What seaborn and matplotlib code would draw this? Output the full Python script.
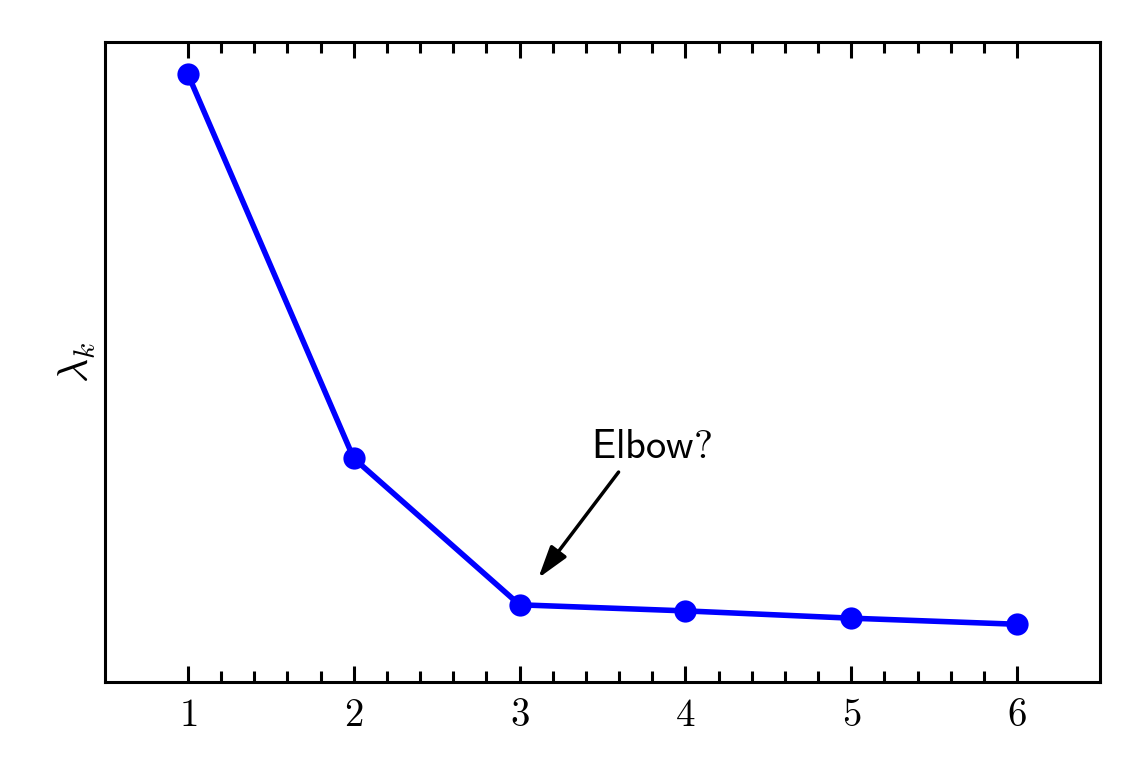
import matplotlib
matplotlib.use("Agg")
import matplotlib.pyplot as plt
import seaborn as sns
import pandas as pd
import numpy as np
from matplotlib.ticker import FixedLocator

# Data
k_values = [1, 2, 3, 4, 5, 6]
eigenvalues = [10.0, 3.68, 1.27, 1.17, 1.05, 0.95]
tick_labels = ["1", "2", "3", "4", "5", "6"]

sns.set_style("white")
plt.rcParams["mathtext.fontset"] = "cm"
plt.rcParams["font.family"] = ["DejaVu Sans"]
plt.rcParams["text.color"] = "black"
plt.rcParams["xtick.color"] = "black"
plt.rcParams["axes.labelcolor"] = "black"

df = pd.DataFrame({"k": k_values, "lam": eigenvalues})

fig = plt.figure(figsize=(11.42, 7.79), dpi=100)
ax = fig.add_axes([105/1142, 1-682/779, (1100-105)/1142, (682-42)/779])

sns.lineplot(data=df, x="k", y="lam", ax=ax, color="#0000ff", linewidth=4.0,
             marker="o", markersize=16, markeredgewidth=0)

ax.set_xlim(0.5, 6.5)
ax.set_ylim(0, 10.53)
ax.set_xticks(k_values)
ax.set_xticklabels([f"${t}$" for t in tick_labels], fontsize=28, color="black")
minor = np.round(np.arange(min(k_values), max(k_values) + 0.01, 0.2), 3)
ax.xaxis.set_minor_locator(FixedLocator([m for m in minor if m not in k_values]))
ax.set_yticks([])
ax.set_xlabel("")
ax.set_ylabel(r"$\lambda_k$", fontsize=30, labelpad=5, color="black")

ax.tick_params(axis="x", which="both", direction="in", top=True, bottom=True,
               width=2.2, color="black", pad=10)
ax.tick_params(axis="x", which="major", length=11.5)
ax.tick_params(axis="x", which="minor", length=7.7)

for s in ax.spines.values():
    s.set_linewidth(2.2)
    s.set_color("black")
    s.set_visible(True)

ax.annotate("", xy=(3.113, 1.71), xytext=(3.597, 3.454),
            arrowprops=dict(arrowstyle="-|>,head_length=0.65,head_width=0.2",
                            mutation_scale=30, lw=2.5, color="black",
                            shrinkA=0, shrinkB=0))
ax.text(3.796, 3.684, r"$\mathsf{Elbow?}$", fontsize=29, ha="center",
        va="baseline", color="black")

fig.savefig("out.png", dpi=100)
